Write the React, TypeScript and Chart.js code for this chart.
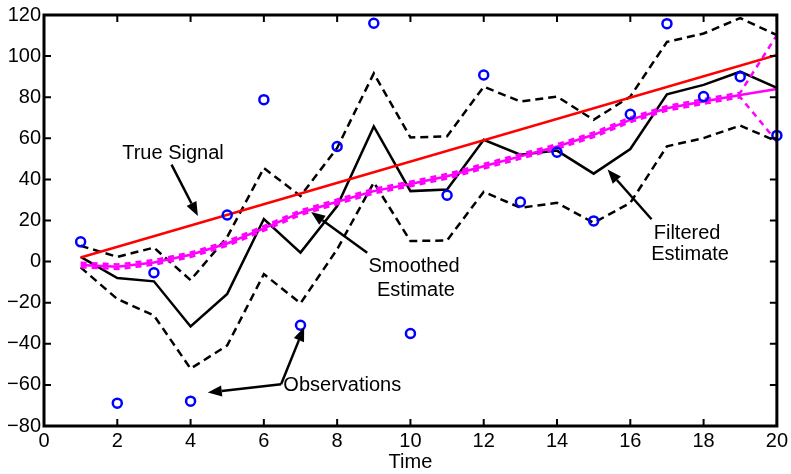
import React, { useEffect, useRef } from "react";
import { Chart, registerables } from "chart.js";

Chart.register(...registerables);

// ---------- data ----------
const time = [1, 2, 3, 4, 5, 6, 7, 8, 9, 10, 11, 12, 13, 14, 15, 16, 17, 18, 19, 20];
const observations = [9.6, -68.9, -5.4, -67.9, 22.7, 78.8, -31, 56, 116, -35, 32.3, 90.8, 29, 53.2, 19.8, 71.7, 115.8, 80.3, 90, 61.4];
const trueTime = [1, 20];
const trueSignal = [2, 100.5];
const filtered = [2.3, -8, -9.6, -31.6, -15.7, 20.7, 4.4, 27, 65.8, 34.3, 35.1, 59.3, 52, 54, 42.8, 54.8, 81.4, 86, 92.4, 84.6];
const filteredUpper = [7.7, 2.3, 6.8, -9, 12, 45.5, 31.9, 55.3, 91.6, 60.4, 61, 85.1, 77.9, 80.3, 69, 80.3, 106.9, 111, 118.5, 110.2];
const filteredLower = [-2.8, -18.2, -26.2, -52.1, -40.8, -6.1, -20.3, 6, 38.5, 10, 10.3, 34, 26.2, 28.6, 18.9, 28.6, 56.1, 60.1, 66.2, 58.5];
const smoothed = [-1.7, -2.5, -0.4, 3.3, 8.8, 16.2, 23.8, 29.1, 34.3, 37.8, 41.5, 46.4, 51.2, 56, 61.7, 69, 74.6, 77.9, 81.1, 84];
const smoothedUpper = [-0.6, -1.4, 0.7, 4.4, 9.9, 17.3, 24.9, 30.2, 35.4, 38.9, 42.6, 47.5, 52.3, 57.1, 62.8, 70.1, 75.7, 79, 82.2, 110.2];
const smoothedLower = [-2.8, -3.6, -1.5, 2.2, 7.7, 15.1, 22.7, 28, 33.2, 36.7, 40.4, 45.3, 50.1, 54.9, 60.6, 67.9, 73.5, 76.8, 80, 58.5];

const xAxisTitle = "Time";

// annotation texts (data coordinates)
const labelTexts = ["True Signal", "Smoothed", "Estimate", "Filtered", "Estimate", "Observations"];
const labelX = [3.52, 10.1, 10.15, 17.55, 17.63, 8.14];
const labelY = [52.4, -2.5, -14.1, 13.9, 3.3, -60.1];

// arrows: tail -> tip (data coordinates)
const arrowFromX = [3.48, 8.82, 16.58, 6.47, 6.47];
const arrowFromY = [47.2, 4.3, 20.6, -59.7, -59.7];
const arrowToX = [4.2, 7.29, 15.38, 4.47, 7.1];
const arrowToY = [22.2, 24.1, 44.8, -63.7, -31.9];

const FONT = "'Liberation Sans', Arial, Helvetica, sans-serif";
const FONT_SIZE = 20;
const LW = 2.5;

const pts = (xs: number[], ys: number[]) => xs.map((x, i) => ({ x, y: ys[i] }));

const framePlugin = {
  id: "matlabFrame",
  afterDatasetsDraw(chart: any) {
    const { ctx, chartArea: a, scales } = chart;
    const xs = scales.x;
    const ys = scales.y;
    ctx.save();
    ctx.strokeStyle = "#000";
    ctx.lineWidth = 2;
    const tl = 7;
    ctx.beginPath();
    xs.ticks.forEach((t: any) => {
      const px = xs.getPixelForValue(t.value);
      ctx.moveTo(px, a.bottom);
      ctx.lineTo(px, a.bottom - tl);
      ctx.moveTo(px, a.top);
      ctx.lineTo(px, a.top + tl);
    });
    ys.ticks.forEach((t: any) => {
      const py = ys.getPixelForValue(t.value);
      ctx.moveTo(a.left, py);
      ctx.lineTo(a.left + tl, py);
      ctx.moveTo(a.right, py);
      ctx.lineTo(a.right - tl, py);
    });
    ctx.stroke();
    ctx.lineWidth = 3;
    ctx.strokeRect(a.left, a.top, a.right - a.left, a.bottom - a.top);

    // annotations
    ctx.fillStyle = "#000";
    ctx.font = `${FONT_SIZE}px ${FONT}`;
    ctx.textAlign = "center";
    ctx.textBaseline = "middle";
    labelTexts.forEach((txt, i) => {
      ctx.fillText(txt, xs.getPixelForValue(labelX[i]), ys.getPixelForValue(labelY[i]));
    });

    ctx.lineWidth = 2.5;
    arrowFromX.forEach((_, i) => {
      const x0 = xs.getPixelForValue(arrowFromX[i]);
      const y0 = ys.getPixelForValue(arrowFromY[i]);
      const x1 = xs.getPixelForValue(arrowToX[i]);
      const y1 = ys.getPixelForValue(arrowToY[i]);
      const ang = Math.atan2(y1 - y0, x1 - x0);
      const hl = 14;
      const hw = 5.5;
      const bx = x1 - hl * Math.cos(ang);
      const by = y1 - hl * Math.sin(ang);
      ctx.beginPath();
      ctx.moveTo(x0, y0);
      ctx.lineTo(bx, by);
      ctx.stroke();
      ctx.beginPath();
      ctx.moveTo(x1, y1);
      ctx.lineTo(bx + hw * Math.sin(ang), by - hw * Math.cos(ang));
      ctx.lineTo(bx - hw * Math.sin(ang), by + hw * Math.cos(ang));
      ctx.closePath();
      ctx.fill();
    });
    ctx.restore();
  },
};

export default function App() {
  const ref = useRef<HTMLCanvasElement | null>(null);

  useEffect(() => {
    if (!ref.current) return;
    const line = (data: any, color: string, dash: number[] = [], width = LW) => ({
      type: "line" as const,
      data,
      borderColor: color,
      backgroundColor: color,
      borderWidth: width,
      borderDash: dash,
      pointRadius: 0,
      pointHoverRadius: 0,
      tension: 0,
      fill: false,
    });
    const chart = new Chart(ref.current, {
      type: "line",
      data: {
        datasets: [
          {
            type: "scatter" as any,
            data: pts(time, observations),
            showLine: false,
            pointStyle: "circle",
            pointRadius: 4.5,
            pointBorderWidth: 2.5,
            pointBorderColor: "#0000FF",
            pointBackgroundColor: "rgba(0,0,0,0)",
            borderColor: "#0000FF",
            clip: false as any,
          } as any,
          line(pts(time, smoothed), "#FF00FF"),
          line(pts(time, smoothedUpper), "#FF00FF", [6, 5]),
          line(pts(time, smoothedLower), "#FF00FF", [6, 5]),
          line(pts(trueTime, trueSignal), "#FF0000"),
          line(pts(time, filtered), "#000000"),
          line(pts(time, filteredUpper), "#000000", [8, 5]),
          line(pts(time, filteredLower), "#000000", [8, 5]),
        ],
      },
      options: {
        animation: false,
        responsive: false,
        devicePixelRatio: 1,
        events: [],
        layout: { padding: { top: 13, right: 12, left: 0, bottom: 0 } },
        plugins: {
          legend: { display: false },
          tooltip: { enabled: false },
          title: { display: false },
        },
        scales: {
          x: {
            type: "linear",
            min: 0,
            max: 20,
            ticks: {
              stepSize: 2,
              color: "#000",
              padding: 3,
              font: { family: FONT, size: FONT_SIZE },
              maxRotation: 0,
              autoSkip: false,
            },
            grid: { display: false, drawTicks: false },
            border: { display: false },
            title: {
              display: true,
              text: xAxisTitle,
              color: "#000",
              font: { family: FONT, size: FONT_SIZE },
              padding: { top: 0, bottom: 0 },
            },
            afterFit: (s: any) => {
              s.height = 48;
            },
          },
          y: {
            type: "linear",
            min: -80,
            max: 120,
            ticks: {
              stepSize: 20,
              color: "#000",
              padding: 3,
              font: { family: FONT, size: FONT_SIZE },
              callback: (v: any) => String(v).replace("-", "\u2212"),
            },
            grid: { display: false, drawTicks: false },
            border: { display: false },
            afterFit: (s: any) => {
              s.width = 44;
            },
          },
        },
      },
      plugins: [framePlugin],
    });
    return () => chart.destroy();
  }, []);

  return (
    <div style={{ position: "absolute", left: 0, top: 0, width: 791, height: 474, background: "#fff" }}>
      <canvas ref={ref} width={791} height={474} style={{ width: 791, height: 474, display: "block" }} />
    </div>
  );
}
